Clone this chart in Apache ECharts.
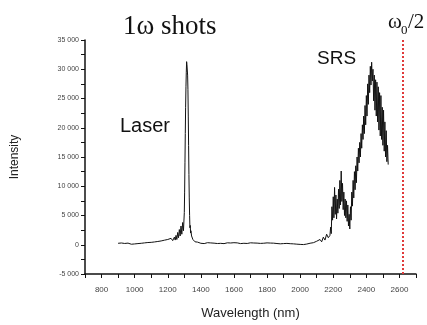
<!DOCTYPE html>
<html>
<head>
<meta charset="utf-8">
<script src="https://cdn.jsdelivr.net/npm/echarts@6/dist/echarts.min.js"></script>
<style>
  html, body { margin: 0; padding: 0; background: #fff; }
  #chart { width: 427px; height: 325px; }
</style>
</head>
<body>
<div id="chart"></div>
<script>
// wavelength (nm) and intensity
const wavelengths = [
  900, 910, 920, 930, 940, 950, 960, 970, 980, 990,
  1000, 1010, 1020, 1030, 1040, 1050, 1060, 1070, 1080, 1090,
  1100, 1110, 1120, 1130, 1140, 1150, 1160, 1170, 1180, 1190,
  1200, 1210, 1220, 1230, 1240,
  1245, 1250, 1255, 1260, 1265, 1270, 1275, 1280, 1285, 1290, 1295, 1300,
  1302, 1304, 1306, 1308, 1310, 1312, 1314, 1316, 1318, 1320,
  1322, 1324, 1326, 1328, 1330, 1332, 1334, 1336, 1338, 1340,
  1344, 1348, 1352, 1356, 1360, 1365, 1370, 1375, 1380,
  1390, 1400, 1410, 1420, 1430, 1440, 1450, 1460, 1470, 1480,
  1490, 1500, 1510, 1520, 1530, 1540, 1550, 1560, 1570, 1580,
  1590, 1600, 1610, 1620, 1630, 1640, 1650, 1660, 1670, 1680,
  1690, 1700, 1710, 1720, 1730, 1740, 1750, 1760, 1770, 1780,
  1790, 1800, 1810, 1820, 1830, 1840, 1850, 1860, 1870, 1880,
  1890, 1900, 1910, 1920, 1930, 1940, 1950, 1960, 1970, 1980,
  1990, 2000, 2010, 2020, 2030, 2040, 2050, 2060, 2070, 2080,
  2090, 2100, 2110, 2120, 2130, 2140, 2150, 2160, 2170, 2180,
  2184, 2188, 2192, 2196, 2200, 2204, 2208, 2212, 2216, 2220,
  2224, 2228, 2232, 2236, 2240, 2244, 2248, 2252, 2256, 2260,
  2264, 2268, 2272, 2276, 2280, 2284, 2288, 2292, 2296, 2300,
  2304, 2308, 2312, 2316, 2320, 2324, 2328, 2332, 2336, 2340,
  2344, 2348, 2352, 2356, 2360, 2364, 2368, 2372, 2376, 2380,
  2384, 2388, 2392, 2396, 2400, 2404, 2408, 2412, 2416, 2420,
  2424, 2428, 2432, 2436, 2440, 2444, 2448, 2452, 2456, 2460,
  2464, 2468, 2472, 2476, 2480, 2484, 2488, 2492, 2496, 2500,
  2504, 2508, 2512, 2516, 2520, 2524, 2528, 2532
];
const intensity = [
  250, 180, 300, 150, 220, 120, 280, 160, 90, 230,
  140, 60, 200, 110, 250, 170, 320, 240, 380, 260,
  410, 300, 480, 350, 560, 420, 650, 480, 780, 560,
  900, 620, 1100, 700, 1300,
  800, 1600, 900, 2100, 1200, 2600, 1500, 3200, 1800, 3800, 2400, 5500,
  9000, 14000, 19000, 23500, 27000, 29500, 31300, 30800, 31000, 29000,
  26500, 22000, 17000, 12000, 8000, 5000, 2900, 3300, 2000, 2400,
  1500, 1200, 900, 700, 850, 500, 600, 400, 450,
  380, 250, 330, 200, 290, 350, 220, 310, 180, 270,
  340, 210, 300, 240, 360, 190, 280, 330, 230, 300,
  260, 350, 210, 320, 270, 200, 310, 250, 340, 220,
  290, 330, 240, 300, 200, 280, 350, 230, 310, 260,
  200, 320, 240, 290, 180, 270, 330, 210, 280, 160,
  250, 200, 120, 230, 90, 180, 60, 150, -20, 100,
  -80, 60, -120, 30, -60, 120, 20, 260, 80, 350,
  200, 600, 350, 900, 500, 1300, 800, 1800, 1200, 1600,
  3000, 1900, 6500, 4200, 8200, 4600, 9800, 5200, 8500, 4400,
  7800, 5400, 9500, 6200, 11000, 6800, 12600, 7400, 10500, 6000,
  9000, 5000, 7800, 4600, 7500, 4000, 6800, 3200, 5200, 2700,
  6500, 4200, 9000, 6600, 11000, 8000, 12500, 9400, 13500, 10600,
  15000, 12600, 16500, 14000, 17500, 15000, 19000, 16500, 20500, 18000,
  22000, 19000, 23800, 20500, 25500, 22000, 27500, 24000, 29000, 26000,
  30500, 27300, 31200, 28000, 30000, 24600, 29000, 23000, 28200, 22000,
  27800, 21000, 27000, 19600, 26000, 18600, 25500, 18000, 23500, 17000,
  23000, 16000, 21000, 15000, 19500, 14200, 17000, 13700
];
const halfOmegaLine = 2620;

const chart = echarts.init(document.getElementById('chart'));

const fmtY = (v) => {
  if (v % 5000 !== 0) return '';
  const s = String(Math.abs(v));
  const t = s.length > 3 ? s.slice(0, s.length - 3) + ' ' + s.slice(-3) : s;
  return (v < 0 ? '-' : '') + t;
};

const option = {
  animation: false,
  title: {
    text: '1\u03c9 shots',
    left: 118,
    top: 8,
    textStyle: { fontFamily: 'Liberation Serif', fontSize: 27, fontWeight: 'normal', color: '#111' }
  },
  grid: { left: 85, right: 11, top: 40, bottom: 47 },
  xAxis: {
    type: 'value',
    min: 700,
    max: 2700,
    interval: 100,
    name: 'Wavelength (nm)',
    nameLocation: 'middle',
    nameGap: 33,
    nameTextStyle: { fontFamily: 'Liberation Sans', fontSize: 13, color: '#222' },
    axisLine: { show: true, onZero: false, lineStyle: { color: '#111', width: 1.5 } },
    axisTick: { show: true, length: 4, lineStyle: { color: '#111' } },
    axisLabel: {
      fontFamily: 'Liberation Sans', fontSize: 8, color: '#444', margin: 12,
      formatter: (v) => (v % 200 === 0 && v > 700 && v < 2700 ? String(v) : '')
    },
    splitLine: { show: false }
  },
  yAxis: {
    type: 'value',
    min: -5000,
    max: 35000,
    interval: 2500,
    name: 'Intensity',
    nameLocation: 'middle',
    nameGap: 64,
    nameTextStyle: { fontFamily: 'Liberation Sans', fontSize: 12, color: '#222' },
    axisLine: { show: true, onZero: false, lineStyle: { color: '#111', width: 1.5 } },
    axisTick: { show: true, length: 4, lineStyle: { color: '#111' } },
    axisLabel: {
      fontFamily: 'Liberation Sans', fontSize: 7, color: '#444', margin: 6,
      formatter: fmtY
    },
    splitLine: { show: false }
  },
  graphic: [
    { type: 'text', left: 120, top: 116, style: { text: 'Laser', font: '20px "Liberation Sans"', fill: '#111' } },
    { type: 'text', left: 317, top: 49, style: { text: 'SRS', font: '19px "Liberation Sans"', fill: '#111' } },
    { type: 'text', left: 388, top: 12, style: { text: '\u03c9', font: '21px "Liberation Serif"', fill: '#111' } },
    { type: 'text', left: 401, top: 24, style: { text: '0', font: '13px "Liberation Serif"', fill: '#111' } },
    { type: 'text', left: 408, top: 12, style: { text: '/2', font: '21px "Liberation Serif"', fill: '#111' } }
  ],
  series: [
    {
      type: 'line',
      showSymbol: false,
      data: wavelengths.map((w, i) => [w, intensity[i]]),
      lineStyle: { color: '#111', width: 1 },
      markLine: {
        silent: true,
        symbol: 'none',
        label: { show: false },
        lineStyle: { color: '#e03a3a', type: [2, 2], width: 2 },
        data: [{ xAxis: halfOmegaLine }]
      }
    }
  ]
};

chart.setOption(option);
</script>
</body>
</html>
